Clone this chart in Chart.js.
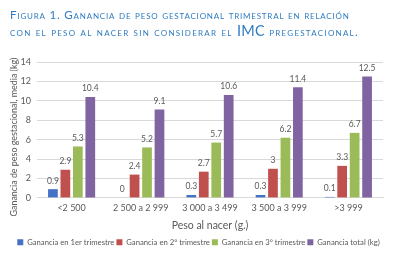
<!DOCTYPE html>
<html><head><meta charset="utf-8">
<script src="https://cdn.jsdelivr.net/npm/chart.js@4.4.1/dist/chart.umd.min.js"></script>
<style>
html,body{margin:0;padding:0;background:#fff;}
#wrap{position:relative;width:397px;height:257px;}
#title{position:absolute;left:10px;top:7px;width:385px;color:#2f7cc0;font-family:Lato,sans-serif;font-variant:small-caps;font-size:11.6px;line-height:16px;white-space:nowrap;}
#l1{letter-spacing:0.8px;}
#l2{letter-spacing:1.25px;}
#title .big{font-size:14.5px;font-variant:normal;letter-spacing:0.3px;}
canvas{position:absolute;left:0;top:0;}
</style></head>
<body><div id="wrap"><canvas id="c" width="397" height="257"></canvas>
<div id="title"><div id="l1">Figura 1. Ganancia de peso gestacional trimestral en relación</div><div id="l2">con el peso al nacer sin considerar el <span class="big">IMC</span> pregestacional.</div></div></div>
<script>
const categories = ["<2 500", "2 500 a 2 999", "3 000 a 3 499", "3 500 a 3 999", ">3 999"];
const seriesNames = ["Ganancia en 1er trimestre", "Ganancia en 2° trimestre", "Ganancia en 3° trimestre", "Ganancia total (kg)"];
const trim1 = [0.9, 0, 0.3, 0.3, 0.1];
const trim2 = [2.9, 2.4, 2.7, 3, 3.3];
const trim3 = [5.3, 5.2, 5.7, 6.2, 6.7];
const total = [10.4, 9.1, 10.6, 11.4, 12.5];
const colors = ["#4472c4", "#c0504d", "#9bbb59", "#8064a2"];
const yTitle = "Ganancia de peso gestacional, media (kg)";
const xTitle = "Peso al nacer (g.)";
const FONT = 'Lato, sans-serif';

const labelPlugin = {
  id: 'lbl',
  afterDatasetsDraw(chart) {
    const ctx = chart.ctx;
    ctx.save();
    ctx.font = '8.5px ' + FONT;
    ctx.fillStyle = '#595959';
    ctx.textAlign = 'center';
    ctx.textBaseline = 'bottom';
    chart.data.datasets.forEach((ds, i) => {
      const meta = chart.getDatasetMeta(i);
      meta.data.forEach((bar, j) => {
        ctx.fillText(String(ds.data[j]), bar.x, bar.y - 4);
      });
    });
    ctx.translate(14, 137);
    ctx.rotate(-Math.PI / 2);
    ctx.textBaseline = 'middle';
    ctx.font = '9.2px ' + FONT;
    ctx.fillText(yTitle, 0, 0, 159);
    ctx.restore();
  }
};

new Chart(document.getElementById('c'), {
  type: 'bar',
  data: {
    labels: categories,
    datasets: [trim1, trim2, trim3, total].map((d, i) => ({
      label: seriesNames[i], data: d, backgroundColor: colors[i],
      categoryPercentage: 0.72, barPercentage: 0.78
    }))
  },
  options: {
    responsive: false, animation: false,
    layout: { padding: { top: 62, left: 0, right: 0, bottom: 1 } },
    plugins: {
      tooltip: { enabled: false },
      legend: {
        position: 'bottom',
        labels: { boxWidth: 6, boxHeight: 6, padding: 2, color: '#595959', font: { size: 7.7, family: FONT } }
      }
    },
    scales: {
      y: {
        min: 0, max: 14,
        ticks: { stepSize: 2, color: '#595959', padding: 6, font: { size: 9, family: FONT } },
        grid: { color: '#d9d9d9', drawTicks: false },
        border: { display: false },
        afterFit(s) { s.width = 37; }
      },
      yR: {
        position: 'right', display: true,
        ticks: { display: false }, grid: { display: false }, border: { display: false },
        afterFit(s) { s.width = 14; }
      },
      x: {
        ticks: { color: '#595959', padding: 5, maxRotation: 0, font: { size: 9, family: FONT } },
        grid: { display: false, drawTicks: false },
        border: { color: '#d9d9d9' },
        title: { display: true, text: xTitle, color: '#595959', padding: { top: 1, bottom: 4 }, font: { size: 10.5, family: FONT } }
      }
    }
  },
  plugins: [labelPlugin]
});
</script></body></html>
